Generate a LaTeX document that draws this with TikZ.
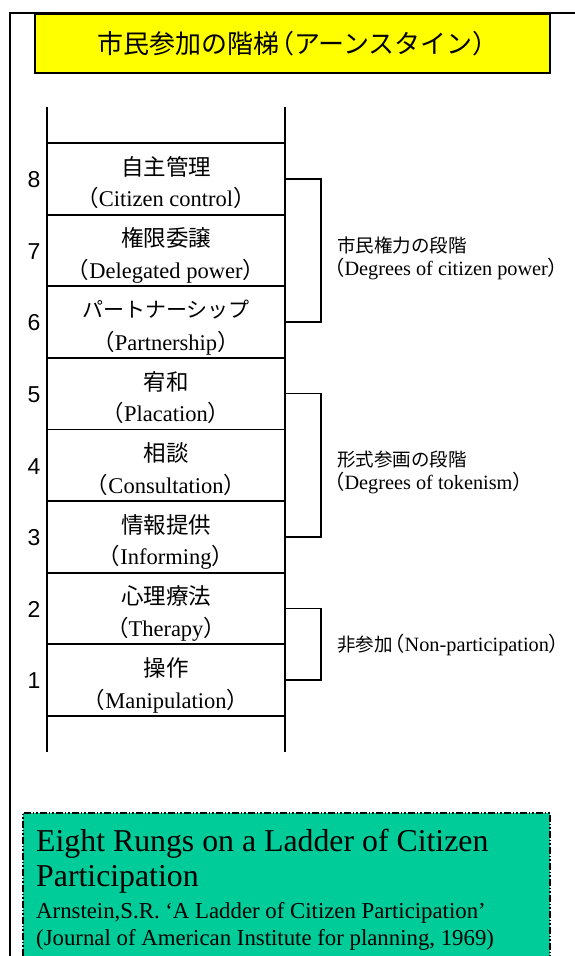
\documentclass[tikz,border=0pt]{standalone}
\usepackage{fontspec}
\setmainfont{Liberation Serif}
\newfontfamily\jpfont{Noto Sans CJK JP}
\newfontfamily\numfont{Liberation Sans}
% full-width parentheses around Latin text
\newcommand\fwp[1]{{\jpfont （}#1{\jpfont ）}}
\definecolor{titleyellow}{RGB}{255,255,0}
\definecolor{notegreen}{RGB}{0,204,153}

\begin{document}
\begin{tikzpicture}[x=1pt,y=-1pt,
  frameline/.style={line width=1.8pt},
  ladderline/.style={line width=1.8pt},
  bracketline/.style={line width=1.5pt},
  rungjp/.style={font=\jpfont\fontsize{22.5}{26}\selectfont, inner sep=0pt},
  rungen/.style={font=\fontsize{22.5}{26}\selectfont, inner sep=0pt, anchor=base},
  rungnum/.style={font=\numfont\fontsize{23}{26}\selectfont, inner sep=0pt},
  groupjp/.style={font=\jpfont\fontsize{18.5}{22}\selectfont, inner sep=0pt, anchor=west},
  groupen/.style={font=\fontsize{20.3}{24}\selectfont, inner sep=0pt, anchor=base west},
  notebig/.style={font=\fontsize{31.8}{36}\selectfont, inner sep=0pt, anchor=base west},
  notesmall/.style={font=\fontsize{22.8}{26}\selectfont, inner sep=0pt, anchor=base west},
]
\useasboundingbox (0,0) rectangle (575,956);
\clip (0,0) rectangle (575,956);

% outer frame, open to the right and bottom
\draw[frameline] (10,970) -- (10,13) -- (590,13);

% title box
\node[draw, frameline, fill=titleyellow, anchor=north west,
      minimum width=515pt, minimum height=59pt, inner sep=0pt,
      font=\jpfont\fontsize{26}{30}\selectfont] (title) at (34,13)
      {市民参加の階梯\kern-.42em（アーンスタイン）\kern-.42em};

% ladder rails
\coordinate (railLtop) at (47,107);
\coordinate (railLbot) at (47,752);
\coordinate (railRtop) at (285,107);
\coordinate (railRbot) at (285,752);
\draw[ladderline] (railLtop) -- (railLbot);
\draw[ladderline] (railRtop) -- (railRbot);

% rungs
\foreach \k in {0,...,8}{
  \pgfmathsetmacro\ry{143+71.6*\k}
  \draw[ladderline] (47,\ry) -- (285,\ry);
}

% rung labels, top (8) to bottom (1)
\foreach \n/\jp/\en [count=\k from 0] in {
  8/自主管理/Citizen control,
  7/権限委譲/Delegated power,
  6/{\fontsize{21}{24}\selectfont パートナーシップ}/Partnership,
  5/宥和/Placation,
  4/相談/Consultation,
  3/情報提供/Informing,
  2/心理療法/Therapy,
  1/操作/Manipulation}{
  \pgfmathsetmacro\cy{143+71.6*\k+35.8}
  \node[rungjp] (jp\n) at (166,\cy-12) {\jp};
  \node[rungen] (en\n) at (166,\cy+28) {\fwp{\en}};
  \node[rungnum] (num\n) at (34,\cy+1) {\n};
}

% group brackets
\coordinate (b8) at (285,178.8);
\coordinate (b6) at (285,322.0);
\coordinate (b5) at (285,393.6);
\coordinate (b3) at (285,536.8);
\coordinate (b2) at (285,608.4);
\coordinate (b1) at (285,680.0);
\draw[bracketline] (b8) -- ++(36,0) |- (b6);
\draw[bracketline] (b5) -- ++(36,0) |- (b3);
\draw[bracketline] (b2) -- ++(36,0) |- (b1);

% group labels
\node[groupjp] (gpowerjp) at (337,245.5) {市民権力の段階};
\node[groupen] (gpoweren) at (324,275) {\fwp{Degrees of citizen power}};
\node[groupjp] (gtokenjp) at (337,460) {形式参画の段階};
\node[groupen] (gtokenen) at (324,489.5) {\fwp{Degrees of tokenism}};
\node[groupen] (gnon) at (337,651)
     {{\jpfont\fontsize{18.5}{22}\selectfont 非参加\kern-.45em}\fwp{Non-participation}};

% reference note
\node[draw, fill=notegreen, line width=1.6pt,
      dash pattern=on 7pt off 2pt on 1.5pt off 2pt on 1.5pt off 2pt,
      anchor=north west, minimum width=527pt, minimum height=170pt,
      inner sep=0pt] (note) at (22,812) {};
\node[notebig] (note1) at (36,851) {Eight Rungs on a Ladder of Citizen};
\node[notebig] (note2) at (36,886) {Participation};
\node[notesmall] (note3) at (36,918) {Arnstein,S.R. ‘A Ladder of Citizen Participation’};
\node[notesmall] (note4) at (36,945) {(Journal of American Institute for planning, 1969)};
\end{tikzpicture}
\end{document}
